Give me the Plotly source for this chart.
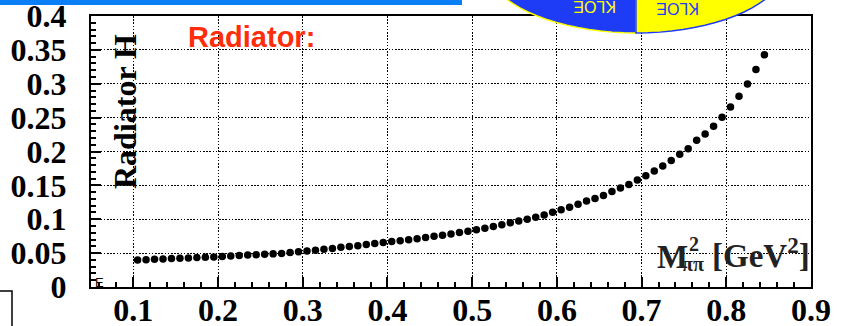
import math
import plotly.graph_objects as go

# ---- data ----
m2_pipi = [0.105, 0.115, 0.125, 0.135, 0.145, 0.155, 0.165, 0.175, 0.185, 0.195,
           0.205, 0.215, 0.225, 0.235, 0.245, 0.255, 0.265, 0.275, 0.285, 0.295,
           0.305, 0.315, 0.325, 0.335, 0.345, 0.355,
           0.365, 0.375, 0.385, 0.395, 0.405, 0.415, 0.425, 0.435, 0.445, 0.455,
           0.465, 0.475, 0.485, 0.495, 0.505, 0.515, 0.525, 0.535, 0.545, 0.555,
           0.565, 0.575, 0.585, 0.595, 0.605,
           0.615, 0.625, 0.635, 0.645, 0.655, 0.665, 0.675, 0.685, 0.695, 0.705,
           0.715, 0.725, 0.735, 0.745,
           0.755, 0.765, 0.775, 0.785, 0.795, 0.805, 0.815, 0.825, 0.835, 0.845]
radiator_h = [0.0399, 0.0404, 0.0409, 0.0414, 0.0419, 0.0424, 0.0429, 0.0434, 0.0439, 0.0444,
              0.0452, 0.0458, 0.0464, 0.0471, 0.0477, 0.0483, 0.0489, 0.0496, 0.0508, 0.0520,
              0.0533, 0.0543, 0.0556, 0.0570, 0.0585, 0.0598,
              0.0610, 0.0626, 0.0641, 0.0656, 0.0670, 0.0683, 0.0698, 0.0714, 0.0730, 0.0748,
              0.0765, 0.0784, 0.0804, 0.0824, 0.0846, 0.0868, 0.0892, 0.0918, 0.0947, 0.0973,
              0.1001, 0.1028, 0.1062, 0.1102, 0.1139,
              0.1176, 0.1221, 0.1268, 0.1307, 0.1351, 0.1408, 0.1462, 0.1512, 0.1581, 0.1642,
              0.1714, 0.1785, 0.1868, 0.1958,
              0.2041, 0.2165, 0.2258, 0.2372, 0.2505, 0.2658, 0.2816, 0.2998, 0.3210, 0.3427]

x_range = [0.05, 0.9]
y_range = [0.0, 0.4]

# ---- layout geometry (pixels) ----
W, H = 850, 326
L, R, T, B = 91, 39, 16, 39
PW, PH = W - L - R, H - T - B


def px(xp):
    return (xp - L) / PW


def py(yp):
    return (H - B - yp) / PH


SERIF = "Liberation Serif, Times New Roman, serif"
SANS = "Liberation Sans, Arial, sans-serif"

fig = go.Figure()
fig.add_trace(go.Scatter(
    x=m2_pipi, y=radiator_h, mode="markers",
    marker=dict(color="black", size=7.5, line=dict(width=0)),
    showlegend=False, cliponaxis=False,
))

axis_common = dict(
    showline=True, linecolor="black", linewidth=2, mirror=True,
    ticks="inside", ticklen=10, tickwidth=2, tickcolor="black",
    showgrid=True, gridcolor="black", gridwidth=1.3, griddash="1.5px,1.7px",
    zeroline=False, automargin=False, ticklabeloverflow="allow",
    tickfont=dict(family=SERIF, size=32, color="black", weight="bold"),
)

fig.update_xaxes(range=x_range, dtick=0.1, tick0=0,
                 minor=dict(dtick=0.02, tick0=0, ticks="inside", ticklen=5,
                            tickwidth=1.5, tickcolor="black", showgrid=False),
                 ticklabelstandoff=-6, **axis_common)
fig.update_yaxes(range=y_range, dtick=0.05, tick0=0,
                 minor=dict(dtick=0.01, tick0=0, ticks="inside", ticklen=5,
                            tickwidth=1.5, tickcolor="black", showgrid=False),
                 ticklabelstandoff=16, **axis_common)

annotations = [
    dict(text="Radiator H", x=px(125), y=py(112), textangle=-90,
         font=dict(family=SERIF, size=32, color="black", weight="bold")),
    dict(text="Radiator:", x=px(186), y=py(37), xanchor="left",
         font=dict(family=SANS, size=29, color="#ff2d0a", weight="bold")),
    dict(text="M", x=px(655), y=py(257), xanchor="left",
         font=dict(family=SERIF, size=33, color="#222222", weight="bold")),
    dict(text="2", x=px(687), y=py(244), xanchor="left",
         font=dict(family=SERIF, size=20, color="#222222", weight="bold")),
    dict(text="ππ", x=px(680), y=py(264), xanchor="left",
         font=dict(family=SERIF, size=20, color="#222222", weight="bold")),
    dict(text="[GeV<sup>2</sup>]", x=px(710), y=py(253), xanchor="left",
         font=dict(family=SERIF, size=33, color="#222222", weight="bold")),
    dict(text="E", x=px(93), y=py(282), xanchor="left",
         font=dict(family=SANS, size=13, color="black")),
    dict(text="KLOE", x=px(595), y=py(7),  textangle=180,
         font=dict(family=SANS, size=16, color="#ffff00")),
    dict(text="KLOE", x=px(678), y=py(8), textangle=180,
         font=dict(family=SANS, size=16, color="#1e3cf5")),
]
for a in annotations:
    a.setdefault("xanchor", "center")
    a.update(xref="paper", yref="paper", yanchor="middle", showarrow=False)
fig.update_layout(annotations=annotations)

# ---- decorative elements around the frame ----
cx, cy, ea, eb = 636, -38, 152, 71


def half_ellipse(side):
    pts = []
    n = 40
    for i in range(n + 1):
        t = math.pi / 2 + side * math.pi * i / n
        pts.append((cx + ea * math.cos(t), cy + eb * math.sin(t)))
    d = "M {:.4f},{:.4f}".format(px(cx), py(cy))
    for (xp, yp) in pts:
        d += " L {:.4f},{:.4f}".format(px(xp), py(yp))
    return d + " Z"


shapes = [
    dict(type="rect", x0=px(-5), x1=px(462), y0=py(5), y1=py(-5),
         fillcolor="#0a7ff5", line=dict(width=0)),
    dict(type="path", path=half_ellipse(1), fillcolor="#1e3cf5",
         line=dict(color="#ffff00", width=1.5)),
    dict(type="path", path=half_ellipse(-1), fillcolor="#ffff00",
         line=dict(color="#1e3cf5", width=1.5)),
    dict(type="rect", x0=px(-20), x1=px(12), y0=py(340), y1=py(291),
         line=dict(color="black", width=1.5), fillcolor="rgba(0,0,0,0)"),
]
for s in shapes:
    s.update(xref="paper", yref="paper", layer="above")
fig.update_layout(shapes=shapes)

fig.update_layout(
    width=W, height=H,
    margin=dict(l=L, r=R, t=T, b=B, pad=0),
    paper_bgcolor="white", plot_bgcolor="white",
)

fig.write_html("out.html", config={"displayModeBar": False},
               post_script="document.body.style.margin='0';document.body.style.padding='0';")
